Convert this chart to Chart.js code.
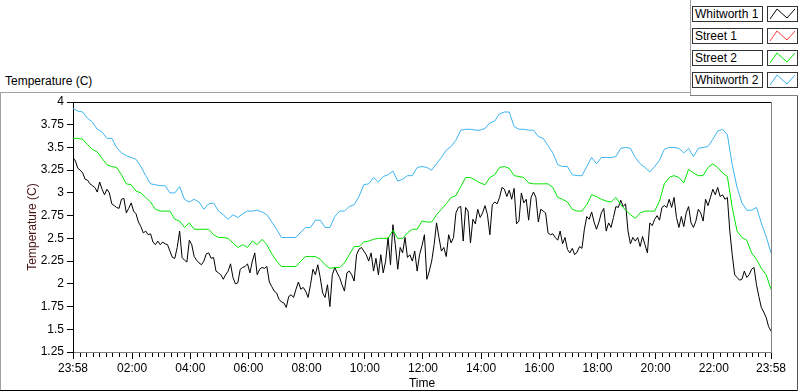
<!DOCTYPE html>
<html>
<head>
<meta charset="utf-8">
<script src="https://cdn.jsdelivr.net/npm/chart.js@4/dist/chart.umd.min.js"></script>
<style>
  html, body { margin:0; padding:0; background:#fff; }
  body { width:800px; height:392px; position:relative; overflow:hidden;
         font-family:"Liberation Sans",Arial,sans-serif; font-size:12px; color:#000; }
  .ln { position:absolute; }
  .lbox { position:absolute; left:692px; width:67px; height:14px; border:1px solid #333; background:#fff;
          line-height:14px; padding-left:2px; white-space:nowrap; overflow:hidden; }
  .sw { position:absolute; left:767px; width:29px; height:14px; border:1px solid #333; background:#fff; }
  #plotTitle { position:absolute; left:5px; top:74px; }
  canvas { position:absolute; left:0; top:0; }
</style>
</head>
<body>
<div class="ln" style="left:0;top:92px;width:690px;height:1px;background:#a0a0a0"></div>
<div class="ln" style="left:0;top:92px;width:1px;height:299px;background:#a0a0a0"></div>
<div class="ln" style="left:0;top:390px;width:798px;height:1px;background:#000"></div>
<div class="ln" style="left:797px;top:95px;width:1px;height:296px;background:#555"></div>
<div class="ln" style="left:690px;top:0;width:1px;height:96px;background:#a0a0a0"></div>
<div class="ln" style="left:690px;top:95px;width:108px;height:1px;background:#808080"></div>
<div id="plotTitle">Temperature (C)</div>
<div id="legend"></div>
<canvas id="c" width="800" height="392"></canvas>
<script>
// sample times, minutes after 23:58
const minutes = Array.from({length: 145}, (_, i) => i * 10);   // street 2, whitworth 2
const minutes5 = Array.from({length: 289}, (_, i) => i * 5);   // whitworth 1

const whitworth1 = [
  3.39,3.35,3.27,3.25,3.22,3.15,3.14,3.10,3.08,3.06,3.01,3.12,
  3.04,2.98,3.04,3.00,2.88,2.86,2.84,2.83,2.93,2.94,2.78,2.83,
  2.89,2.80,2.77,2.68,2.63,2.56,2.58,2.54,2.55,2.46,2.43,2.47,
  2.43,2.46,2.44,2.43,2.36,2.29,2.28,2.40,2.58,2.29,2.26,2.24,
  2.48,2.43,2.30,2.26,2.23,2.21,2.25,2.33,2.34,2.28,2.29,2.14,
  2.12,2.10,2.05,2.10,2.14,2.22,2.07,2.00,2.01,2.16,2.18,2.19,
  2.22,2.12,2.25,2.34,2.10,2.16,2.18,2.17,2.19,2.02,1.97,1.92,
  1.90,1.83,1.80,1.79,1.74,1.86,1.88,1.85,1.94,2.02,1.94,1.96,
  1.92,1.85,1.99,2.16,2.10,2.21,2.07,1.90,1.85,1.99,1.75,2.10,
  2.18,2.12,2.07,1.99,1.92,2.12,2.14,2.10,2.03,2.32,2.38,2.40,
  2.36,2.32,2.25,2.34,2.14,2.28,2.10,2.32,2.12,2.25,2.51,2.21,
  2.65,2.43,2.16,2.40,2.34,2.51,2.29,2.32,2.25,2.36,2.14,2.32,
  2.42,2.54,2.05,2.14,2.25,2.43,2.67,2.51,2.36,2.40,2.30,2.54,
  2.45,2.51,2.78,2.84,2.85,2.47,2.84,2.80,2.45,2.71,2.66,2.82,
  2.73,2.78,2.86,2.76,2.54,2.87,2.90,2.88,2.95,3.06,3.04,2.96,
  3.03,2.93,3.05,2.66,2.69,3.00,2.89,2.93,2.70,2.95,3.01,2.95,
  2.68,2.82,2.80,2.78,2.56,2.54,2.55,2.51,2.48,2.58,2.44,2.51,
  2.38,2.34,2.39,2.32,2.35,2.41,2.39,2.60,2.74,2.71,2.79,2.68,
  2.60,2.68,2.78,2.83,2.58,2.67,2.62,2.73,2.85,2.84,2.92,2.85,
  2.88,2.58,2.44,2.51,2.47,2.51,2.41,2.52,2.43,2.34,2.67,2.64,
  2.71,2.75,2.70,2.84,2.86,2.84,2.93,2.84,2.95,2.73,2.62,2.74,
  2.63,2.78,2.85,2.67,2.62,2.69,2.82,2.78,2.69,2.93,2.86,2.95,
  3.04,2.98,3.06,2.96,2.98,2.93,2.95,2.58,2.32,2.10,2.07,2.04,
  2.05,2.14,2.07,2.10,2.16,2.18,1.99,1.86,1.74,1.69,1.63,1.53,
  1.48];
const street1 = [];
const street2 = [3.60,3.60,3.59,3.53,3.48,3.45,3.38,3.31,3.29,3.28,3.20,3.10,3.09,3.02,3.00,2.95,2.90,2.82,2.80,2.80,
  2.80,2.71,2.69,2.62,2.67,2.60,2.60,2.60,2.60,2.54,2.51,2.51,2.50,2.45,2.40,2.43,2.40,2.47,2.43,2.49,
  2.43,2.33,2.25,2.19,2.19,2.19,2.19,2.25,2.30,2.30,2.30,2.27,2.21,2.17,2.18,2.18,2.23,2.32,2.41,2.41,
  2.46,2.47,2.49,2.50,2.50,2.50,2.59,2.50,2.50,2.56,2.60,2.60,2.69,2.68,2.68,2.76,2.82,2.88,2.95,2.97,
  3.07,3.17,3.17,3.14,3.11,3.09,3.17,3.20,3.28,3.29,3.27,3.19,3.18,3.17,3.11,3.10,3.10,3.10,3.10,3.06,
  2.95,2.93,2.90,2.82,2.80,2.80,2.87,2.98,2.96,2.93,2.91,2.90,2.95,2.87,2.81,2.76,2.72,2.78,2.80,2.80,
  2.80,2.91,3.10,3.17,3.19,3.17,3.11,3.26,3.22,3.19,3.19,3.28,3.32,3.28,3.22,3.18,2.84,2.58,2.51,2.48,
  2.34,2.27,2.17,2.10,1.94];
const whitworth2 = [3.93,3.90,3.89,3.82,3.78,3.70,3.67,3.60,3.60,3.50,3.44,3.41,3.39,3.37,3.29,3.19,3.10,3.09,3.08,3.08,
  3.00,3.00,3.07,2.93,2.90,2.93,2.90,2.82,2.88,2.89,2.80,2.76,2.71,2.76,2.73,2.77,2.80,2.80,2.81,2.79,
  2.76,2.68,2.60,2.51,2.51,2.51,2.51,2.57,2.62,2.62,2.70,2.70,2.62,2.62,2.74,2.80,2.80,2.85,2.87,2.96,
  3.09,3.10,3.17,3.12,3.18,3.20,3.24,3.13,3.15,3.19,3.19,3.28,3.29,3.28,3.25,3.32,3.39,3.47,3.51,3.58,
  3.69,3.70,3.70,3.69,3.69,3.71,3.77,3.79,3.87,3.89,3.89,3.73,3.70,3.70,3.69,3.69,3.62,3.60,3.52,3.44,
  3.31,3.29,3.29,3.20,3.19,3.19,3.29,3.39,3.32,3.39,3.39,3.39,3.40,3.49,3.50,3.49,3.39,3.32,3.28,3.23,
  3.29,3.36,3.48,3.50,3.50,3.49,3.44,3.49,3.40,3.49,3.50,3.51,3.59,3.68,3.70,3.64,3.31,3.06,2.89,2.81,
  2.81,2.84,2.67,2.52,2.34];

const xTickMinutes = [0,122,242,362,482,602,722,842,962,1082,1202,1322,1440];
const xTickLabels = ['23:58','02:00','04:00','06:00','08:00','10:00','12:00','14:00','16:00','18:00','20:00','22:00','23:58'];

const seriesNames = ['Whitworth 1','Street 1','Street 2','Whitworth 2'];
const seriesColors = ['#000000','#ff3c3c','#00e600','#3cb4f0'];

// legend on the right top
const legend = document.getElementById('legend');
seriesNames.forEach((name, i) => {
  const top = 6 + i * 22;
  legend.innerHTML += `<div class="lbox" style="top:${top}px">${name}</div>` +
    `<div class="sw" style="top:${top}px"><svg width="29" height="14"><polyline points="2,12 9,2 19,11 27,2" fill="none" stroke="${seriesColors[i]}" stroke-width="1"/></svg></div>`;
});

Chart.defaults.font.family = '"Liberation Sans",Arial,sans-serif';
Chart.defaults.font.size = 12;
Chart.defaults.color = '#000';

function pts(times, vals) { return vals.map((v, i) => ({x: times[i], y: v})); }

const plotBox = {
  id: 'plotBox',
  afterDraw(chart) {
    const {ctx, chartArea: a, scales: {x}} = chart;
    ctx.save();
    ctx.lineWidth = 1;
    ctx.strokeStyle = '#000';
    ctx.beginPath();
    ctx.moveTo(a.left, a.top + 0.5); ctx.lineTo(a.right, a.top + 0.5);
    // minor ticks, 9 divisions between labels
    for (let i = 0; i < xTickMinutes.length - 1; i++) {
      const m0 = xTickMinutes[i], m1 = xTickMinutes[i + 1];
      for (let k = 1; k < 9; k++) {
        const px = Math.round(x.getPixelForValue(m0 + (m1 - m0) * k / 9)) + 0.5;
        ctx.moveTo(px, a.bottom + 1); ctx.lineTo(px, a.bottom + 5);
      }
    }
    ctx.stroke();
    ctx.strokeStyle = '#808080';
    ctx.beginPath();
    ctx.moveTo(a.right + 0.5, a.top); ctx.lineTo(a.right + 0.5, a.bottom);
    ctx.stroke();
    ctx.restore();
  }
};

const ds = (i, times, vals) => ({
  label: seriesNames[i], data: pts(times, vals), borderColor: seriesColors[i],
  borderWidth: 1, pointRadius: 0, tension: 0, fill: false
});

new Chart(document.getElementById('c'), {
  type: 'line',
  data: { datasets: [
    ds(3, minutes, whitworth2), ds(2, minutes, street2), ds(1, minutes, street1), ds(0, minutes5, whitworth1)
  ] },
  options: {
    responsive: false, animation: false,
    layout: { padding: { left: 0, top: 102, right: 29, bottom: 0 } },
    plugins: { legend: { display: false }, tooltip: { enabled: false } },
    scales: {
      x: {
        type: 'linear', min: 0, max: 1440,
        afterBuildTicks: s => { s.ticks = xTickMinutes.map(v => ({value: v})); },
        afterFit: s => { s.height = 40; },
        ticks: { autoSkip: false, maxRotation: 0, padding: 2, callback: (v, i) => xTickLabels[i] },
        grid: { drawOnChartArea: false, tickLength: 7, tickColor: '#000' },
        border: { color: '#808080' },
        title: { display: true, text: 'Time', padding: { top: 0, bottom: 1 } }
      },
      y: {
        min: 1.25, max: 4,
        afterFit: s => { s.width = 73; },
        ticks: { stepSize: 0.25, padding: 3, callback: v => String(+v.toFixed(2)) },
        grid: { drawOnChartArea: false, tickLength: 6, tickColor: '#000' },
        border: { color: '#000' },
        title: { display: true, text: 'Temperature (C)', color: '#4a1414', padding: { top: 25, bottom: 0 } }
      }
    }
  },
  plugins: [plotBox]
});
</script>
</body>
</html>
